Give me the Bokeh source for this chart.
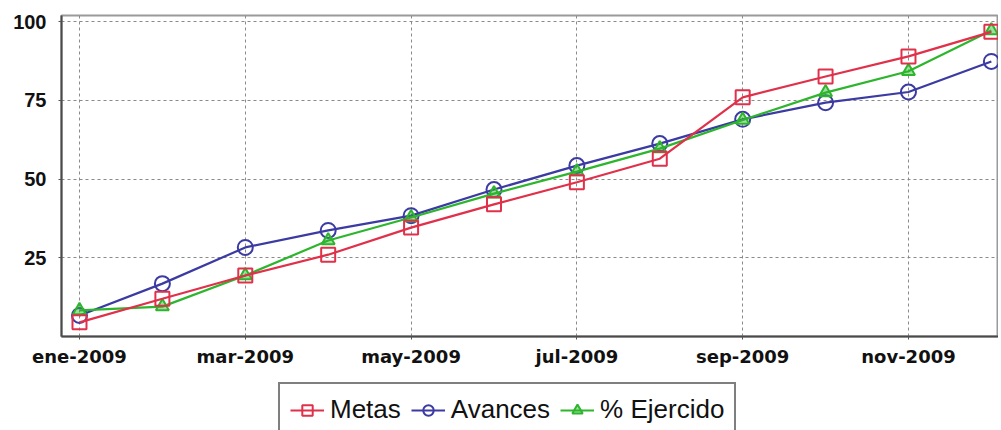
from bokeh.plotting import figure
from bokeh.layouts import column
from bokeh.models import FixedTicker, Legend, LegendItem, Range1d
from bokeh.embed import file_html
from bokeh.resources import INLINE

months = ["ene-2009", "feb-2009", "mar-2009", "abr-2009", "may-2009", "jun-2009",
          "jul-2009", "ago-2009", "sep-2009", "oct-2009", "nov-2009", "dic-2009"]
metas = [4.5, 12, 19.4, 26, 34.6, 42, 49, 56.5, 76, 82.6, 89, 96.8]
avances = [6.7, 16.8, 28.3, 33.7, 38.4, 46.7, 54.3, 61.3, 69, 74.3, 77.7, 87.4]
ejercido = [8.3, 9.5, 19.4, 30.5, 37.8, 45.4, 52.4, 59.7, 68.8, 77.5, 84.3, 97.2]
series_names = ["Metas", "Avances", "% Ejercido"]
y_ticks = [25, 50, 75, 100]
x_tick_idx = [0, 2, 4, 6, 8, 10]

x = list(range(len(months)))
nan = float("nan")

p = figure(width=998, height=378, output_backend="svg", toolbar_location=None,
           x_range=Range1d(-0.217, 11.086), y_range=Range1d(0, 102),
           min_border_left=61, min_border_top=15, min_border_right=0, min_border_bottom=42)
p.background_fill_color = "white"
p.border_fill_color = "white"
p.outline_line_color = "#9a9a9a"
p.outline_line_width = 2

p.xaxis.ticker = FixedTicker(ticks=x_tick_idx)
p.xaxis.major_label_overrides = {i: months[i] for i in x_tick_idx}
p.yaxis.ticker = FixedTicker(ticks=y_ticks)
p.xaxis.minor_tick_line_color = None
p.yaxis.minor_tick_line_color = None
for ax in (p.xaxis, p.yaxis):
    ax.axis_line_color = "#4a4a4a"
    ax.axis_line_width = 2
    ax.major_tick_line_color = "#555555"
    ax.major_tick_in = 0
    ax.major_tick_out = 3
    ax.major_label_text_color = "#111111"
    ax.major_label_text_font_style = "bold"
p.xaxis.major_label_text_font = "DejaVu Sans"
p.xaxis.major_label_text_font_size = "18px"
p.xaxis.major_label_standoff = 6
p.yaxis.major_label_text_font = "Liberation Sans"
p.yaxis.major_label_text_font_size = "20px"
p.yaxis.major_label_standoff = 12

p.xgrid.grid_line_color = "#8a8a8a"
p.xgrid.grid_line_dash = "3 3"
p.ygrid.grid_line_color = "#8a8a8a"
p.ygrid.grid_line_dash = "3 3"

blue = "#3b3ba3"
green = "#2db52d"
red = "#e0304a"

styles = {
    "Metas": dict(color=red, marker="square", size=14, fill=None, alpha=1.0),
    "Avances": dict(color=blue, marker="circle", size=15, fill=None, alpha=1.0),
    "% Ejercido": dict(color=green, marker="triangle", size=13, fill=green, alpha=0.45),
}
data = {"Metas": metas, "Avances": avances, "% Ejercido": ejercido}

for name in ["Avances", "% Ejercido", "Metas"]:
    s = styles[name]
    p.line(x, data[name], line_color=s["color"], line_width=2.2)
    p.scatter(x, data[name], marker=s["marker"], size=s["size"], line_color=s["color"],
              line_width=2, fill_color=s["fill"], fill_alpha=s["alpha"])

# legend strip below the chart
p2 = figure(width=998, height=52, output_backend="svg", toolbar_location=None,
            x_range=Range1d(0, 1), y_range=Range1d(0, 1),
            min_border_left=0, min_border_top=0, min_border_right=0, min_border_bottom=0)
p2.axis.visible = False
p2.grid.visible = False
p2.outline_line_color = None
p2.background_fill_color = "white"
p2.border_fill_color = "white"

items = []
for name in series_names:
    s = styles[name]
    r1 = p2.line([nan], [nan], line_color=s["color"], line_width=2.2)
    r2 = p2.scatter([nan], [nan], marker=s["marker"], size=s["size"] - 2, line_color=s["color"],
                    line_width=2, fill_color=s["fill"], fill_alpha=s["alpha"])
    items.append(LegendItem(label=name, renderers=[r1, r2]))

legend = Legend(items=items, orientation="horizontal", location=(217, -7))
legend.label_text_font = "Liberation Sans"
legend.label_text_font_size = "26px"
legend.label_text_color = "#111111"
legend.border_line_color = "black"
legend.border_line_width = 2
legend.glyph_width = 34
legend.label_standoff = 6
legend.spacing = 10
legend.padding = 10
legend.margin = 0
legend.label_height = 26
legend.glyph_height = 26
p2.add_layout(legend, "center")

layout = column(p, p2, spacing=0)
open("out.html", "w").write(file_html(layout, INLINE))
